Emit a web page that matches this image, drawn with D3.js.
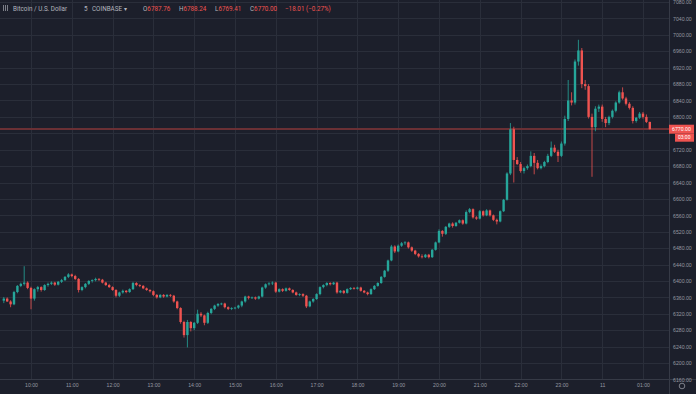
<!DOCTYPE html>
<html>
<head>
<meta charset="utf-8">
<title>Bitcoin / U.S. Dollar 5</title>
<script src="https://d3js.org/d3.v7.min.js"></script>
<style>
  body { margin: 0; background: #1c1f2b; }
  svg { display: block; font-family: Roboto, "Noto Sans", sans-serif; }
</style>
</head>
<body>
<svg width="696" height="394"></svg>
<script>
// 5 minute candles, 09:20 .. 01:10
const opens = [6352,6357,6350,6343,6373,6388,6393,6396,6383,6357,6380,6385,6378,6390,6393,6396,6391,6398,6402,6410,
  6416,6412,6405,6378,6385,6393,6400,6402,6405,6403,6396,6390,6385,6378,6364,6372,6376,6373,6380,6395,
  6390,6388,6382,6378,6375,6366,6360,6366,6362,6366,6364,6350,6334,6300,6268,6300,6285,6298,6320,6316,
  6298,6322,6332,6340,6344,6345,6336,6332,6334,6335,6340,6350,6362,6359,6360,6357,6362,6384,6392,6394,
  6396,6374,6380,6376,6382,6378,6372,6366,6368,6364,6338,6350,6356,6368,6385,6390,6395,6392,6396,6372,
  6376,6371,6380,6383,6381,6384,6376,6372,6368,6380,6388,6395,6410,6425,6450,6484,6472,6486,6492,6494,
  6482,6474,6466,6460,6458,6464,6458,6476,6494,6522,6515,6532,6540,6534,6542,6548,6540,6568,6575,6555,
  6552,6570,6560,6572,6560,6549,6545,6570,6598,6662,6770,6695,6685,6668,6675,6680,6705,6688,6675,6680,
  6690,6705,6725,6715,6705,6735,6795,6840,6835,6935,6962,6880,6875,6800,6775,6820,6825,6795,6785,6800,
  6815,6835,6860,6845,6832,6822,6790,6798,6808,6800,6787.76];
const highs = [6361,6360,6353,6376,6390,6396,6436,6399,6386,6382,6388,6387,6392,6396,6399,6398,6400,6405,6412,6419,
  6418,6415,6407,6387,6395,6402,6404,6408,6407,6405,6398,6393,6387,6380,6374,6379,6378,6382,6398,6397,
  6392,6390,6384,6380,6377,6368,6368,6368,6368,6368,6366,6352,6336,6303,6305,6302,6300,6330,6324,6318,
  6325,6334,6342,6346,6347,6347,6338,6336,6337,6342,6352,6364,6364,6362,6362,6364,6386,6394,6397,6399,
  6398,6382,6382,6384,6384,6380,6374,6370,6370,6366,6352,6358,6370,6387,6392,6397,6397,6398,6398,6378,
  6378,6382,6385,6385,6386,6386,6378,6374,6382,6390,6397,6412,6427,6452,6488,6487,6489,6495,6497,6496,
  6484,6476,6468,6465,6466,6466,6478,6496,6526,6524,6534,6542,6543,6544,6550,6550,6572,6578,6577,6558,
  6573,6572,6575,6574,6562,6552,6572,6600,6665,6785,6776,6702,6690,6678,6684,6716,6712,6695,6684,6693,
  6710,6740,6732,6720,6740,6803,6890,6860,6940,6988,6968,6890,6880,6808,6826,6830,6830,6800,6803,6818,
  6838,6864,6872,6849,6836,6826,6800,6812,6812,6806,6788.24];
const lows = [6346,6349,6336,6341,6370,6385,6389,6380,6331,6352,6374,6374,6376,6386,6390,6388,6389,6395,6400,6407,
  6409,6402,6372,6375,6382,6390,6396,6399,6400,6394,6388,6383,6376,6360,6361,6369,6370,6371,6378,6387,
  6385,6380,6376,6372,6363,6357,6358,6359,6360,6361,6347,6331,6296,6262,6238,6277,6280,6295,6312,6292,
  6295,6319,6329,6337,6341,6333,6329,6329,6331,6332,6336,6347,6355,6356,6354,6355,6360,6381,6389,6390,
  6371,6372,6373,6374,6376,6370,6364,6363,6361,6334,6336,6347,6354,6365,6382,6387,6389,6390,6369,6370,
  6368,6369,6378,6379,6379,6374,6370,6365,6366,6378,6386,6393,6408,6422,6448,6468,6470,6483,6488,6479,
  6471,6463,6457,6455,6456,6455,6456,6474,6492,6508,6512,6529,6530,6532,6540,6537,6538,6565,6552,6549,
  6550,6557,6558,6557,6546,6538,6543,6568,6596,6658,6640,6683,6664,6662,6671,6677,6660,6672,6672,6677,
  6687,6702,6712,6690,6702,6730,6790,6828,6830,6925,6870,6866,6796,6654,6765,6812,6788,6775,6780,6796,
  6811,6832,6842,6828,6818,6784,6786,6795,6796,6785,6769.41];
const closes = [6357,6350,6343,6373,6388,6393,6396,6383,6357,6380,6385,6378,6390,6393,6396,6391,6398,6402,6410,6416,
  6412,6405,6378,6385,6393,6400,6402,6405,6403,6396,6390,6385,6378,6364,6372,6376,6373,6380,6395,6390,
  6388,6382,6378,6375,6366,6360,6366,6362,6366,6364,6350,6334,6300,6268,6300,6285,6298,6320,6316,6298,
  6322,6332,6340,6344,6345,6336,6332,6334,6335,6340,6350,6362,6359,6360,6357,6362,6384,6392,6394,6396,
  6374,6380,6376,6382,6378,6372,6366,6368,6364,6338,6350,6356,6368,6385,6390,6395,6392,6396,6372,6376,
  6371,6380,6383,6381,6384,6376,6372,6368,6380,6388,6395,6410,6425,6450,6484,6472,6486,6492,6494,6482,
  6474,6466,6460,6458,6464,6458,6476,6494,6522,6515,6532,6540,6534,6542,6548,6540,6568,6575,6555,6552,
  6570,6560,6572,6560,6549,6545,6570,6598,6662,6770,6695,6685,6668,6675,6680,6705,6688,6675,6680,6690,
  6705,6725,6715,6705,6735,6795,6840,6835,6935,6962,6880,6875,6800,6775,6820,6825,6795,6785,6800,6815,
  6835,6860,6845,6832,6822,6790,6798,6808,6800,6787.76,6770];

const hourLabels = ["10:00","11:00","12:00","13:00","14:00","15:00","16:00","17:00",
  "18:00","19:00","20:00","21:00","22:00","23:00","11","01:00"];
const priceTicks = [6160,6200,6240,6280,6320,6360,6400,6440,6480,6520,6560,6600,
  6640,6680,6720,6760,6800,6840,6880,6920,6960,7000,7040,7080];
const lastPrice = 6770.00;
const lastChange = -18.01;
const lastChangePct = -0.27;

const W = 696, H = 394;
const plotW = 669, plotH = 379;
const upColor = "#26a69a", downColor = "#ef5350";
const gridColor = "#2a2e3a", textColor = "#9598a1";

const start = new Date(2019, 9, 10, 9, 20);
const candles = opens.map((o, i) => ({
  t: d3.timeMinute.offset(start, 5 * i),
  o: o, h: highs[i], l: lows[i], c: closes[i]
}));
const hourTicks = hourLabels.map((_, k) => d3.timeHour.offset(new Date(2019, 9, 10, 10), k));

const x = d3.scaleTime()
  .domain([new Date(2019, 9, 10, 10), new Date(2019, 9, 11, 1)])
  .range([31, 643]);
const y = d3.scaleLinear().domain([6161, 7085]).range([plotH, 0]);

const svg = d3.select("svg");
svg.append("rect").attr("width", W).attr("height", H).attr("fill", "#1c1f2b");

svg.append("defs").append("clipPath").attr("id", "plot")
  .append("rect").attr("width", plotW).attr("height", plotH);

const plot = svg.append("g").attr("clip-path", "url(#plot)");

// grid
plot.append("g").selectAll("line").data(priceTicks).join("line")
  .attr("x1", 0).attr("x2", plotW)
  .attr("y1", d => Math.round(y(d)) + 0.5).attr("y2", d => Math.round(y(d)) + 0.5)
  .attr("stroke", gridColor);
plot.append("g").selectAll("line").data(hourTicks).join("line")
  .attr("y1", 0).attr("y2", plotH)
  .attr("x1", d => Math.round(x(d)) + 0.5).attr("x2", d => Math.round(x(d)) + 0.5)
  .attr("stroke", gridColor);

// last price line
plot.append("rect")
  .attr("x", 0).attr("width", plotW)
  .attr("y", Math.round(y(lastPrice)) - 1).attr("height", 2)
  .attr("fill", "#6a3035");

// candles
const bw = 2.4;
const cg = plot.append("g").selectAll("g").data(candles).join("g")
  .attr("fill", d => d.c >= d.o ? upColor : downColor)
  .attr("stroke", d => d.c >= d.o ? upColor : downColor);
cg.append("line")
  .attr("x1", d => x(d.t)).attr("x2", d => x(d.t))
  .attr("y1", d => y(d.h)).attr("y2", d => y(d.l))
  .attr("stroke-width", 0.8);
cg.append("rect")
  .attr("x", d => x(d.t) - bw / 2).attr("width", bw)
  .attr("y", d => y(Math.max(d.o, d.c)))
  .attr("height", d => Math.max(0.8, Math.abs(y(d.o) - y(d.c))))
  .attr("stroke", "none");

// axes
svg.append("line").attr("x1", plotW + 0.5).attr("x2", plotW + 0.5).attr("y1", 0).attr("y2", H)
  .attr("stroke", "#363a46");
svg.append("line").attr("x1", 0).attr("x2", W).attr("y1", plotH + 0.5).attr("y2", plotH + 0.5)
  .attr("stroke", "#363a46");

// the 6760 label sits under the last-price box, so it is left out
const yAxis = svg.append("g")
  .attr("transform", `translate(${plotW},0)`)
  .call(d3.axisRight(y).tickValues(priceTicks.filter(p => Math.abs(y(p) - y(lastPrice)) > 8))
    .tickSize(0).tickPadding(4).tickFormat(d3.format(".2f")));
yAxis.select(".domain").remove();
yAxis.selectAll("text").attr("fill", textColor).attr("font-size", 5.2);

const xAxis = svg.append("g")
  .attr("transform", `translate(0,${plotH})`)
  .call(d3.axisBottom(x).tickValues(hourTicks).tickSize(0).tickPadding(4)
    .tickFormat((d, i) => hourLabels[i]));
xAxis.select(".domain").remove();
xAxis.selectAll("text").attr("fill", textColor).attr("font-size", 5.2);

// last price label
const ly = y(lastPrice);
svg.append("rect").attr("x", plotW).attr("y", ly - 4.5).attr("width", 25).attr("height", 9)
  .attr("fill", downColor);
svg.append("text").attr("x", plotW + 3).attr("y", ly).attr("dy", "0.35em")
  .attr("font-size", 5.2).attr("fill", "#fff").text(lastPrice.toFixed(2));
svg.append("rect").attr("x", plotW + 6).attr("y", ly + 4.5).attr("width", 19).attr("height", 8)
  .attr("fill", downColor);
svg.append("text").attr("x", plotW + 9).attr("y", ly + 8.5).attr("dy", "0.35em")
  .attr("font-size", 5).attr("fill", "#fff").text("03:00");

// settings icon
svg.append("circle").attr("cx", 682).attr("cy", 386).attr("r", 2.8)
  .attr("fill", "none").attr("stroke", textColor).attr("stroke-width", 0.8);

// header
const hdr = svg.append("g").attr("font-size", 6.3).attr("fill", "#b2b5be");
[3, 5, 7].forEach(px => hdr.append("rect").attr("x", px).attr("y", 5).attr("width", 0.8).attr("height", 6)
  .attr("fill", "#9598a1"));
hdr.append("text").attr("x", 13).attr("y", 11).text("Bitcoin / U.S. Dollar");
hdr.append("text").attr("x", 84).attr("y", 11).text("5");
hdr.append("text").attr("x", 92).attr("y", 11).text("COINBASE");
hdr.append("text").attr("x", 124).attr("y", 11).text("\u25be");
const last = candles[candles.length - 1];
const ohlc = [["O", last.o, 143], ["H", last.h, 179], ["L", last.l, 215], ["C", last.c, 250]];
ohlc.forEach(([k, v, px]) => {
  const t = hdr.append("text").attr("x", px).attr("y", 11);
  t.append("tspan").text(k);
  t.append("tspan").attr("fill", downColor).text(v.toFixed(2));
});
hdr.append("text").attr("x", 285).attr("y", 11).attr("fill", downColor)
  .text(`\u2212${Math.abs(lastChange).toFixed(2)} (\u2212${Math.abs(lastChangePct).toFixed(2)}%)`);
</script>
</body>
</html>
